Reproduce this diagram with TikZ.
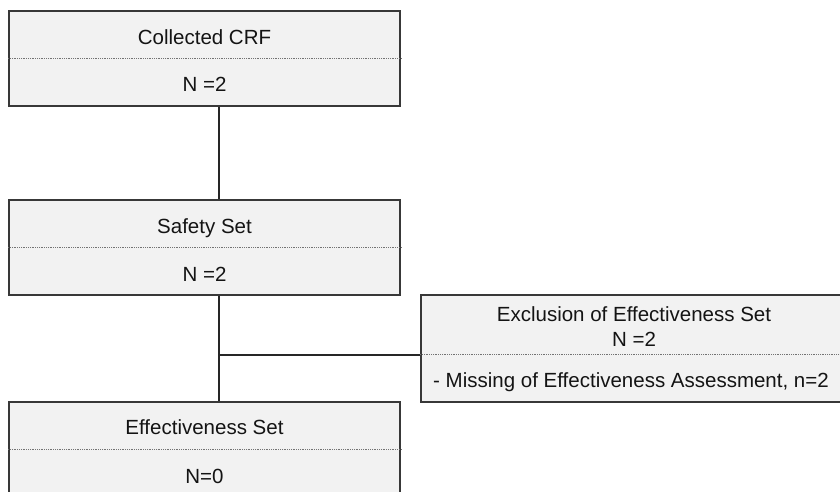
\documentclass[tikz,border=0pt]{standalone}
\usepackage{fontspec}
\setmainfont{Liberation Sans}
\usepackage{tikz}

\begin{document}
\begin{tikzpicture}
            [x=1pt,y=-1pt,
            box/.style={rectangle,draw=black!78,fill=black!5,line width=1.5pt,inner sep=0pt,minimum width=391pt,minimum height=95pt},
            lbl/.style={inner sep=0pt,text height=14.6pt,text depth=0pt,text=black!92,font=\fontsize{20.5}{24}\selectfont},
            sep/.style={draw=black!55,line width=0.9pt,dash pattern=on 0.9pt off 0.9pt},
            link/.style={draw=black!85,line width=1.5pt}]
            \useasboundingbox (0,0) rectangle (840,492);
            \clip (0,0) rectangle (840,492);
            \node[box] (crf) at (204.5,58.5) {};
            \node[box] (safety) at (204.5,247.5) {};
            \node[box] (eff) at (204.5,449.5) {};
            \node[box,minimum width=420pt,minimum height=107pt] (excl) at (631,348.5) {};
            %
            \draw[sep] (crf.west) -- (crf.east);
            \draw[sep] (safety.west) -- (safety.east);
            \draw[sep] (eff.west) -- (eff.east);
            \draw[sep] ([yshift=-5.5pt]excl.west) -- ([yshift=-5.5pt]excl.east);
            %
            \node[lbl] (crftitle) at (204.5,37) {Collected CRF};
            \node[lbl] (crfn) at (204.5,84) {N =2};
            \node[lbl] (safetytitle) at (204.5,226.5) {Safety Set};
            \node[lbl] (safetyn) at (204.5,274) {N =2};
            \node[lbl] (efftitle) at (204.5,427) {Effectiveness Set};
            \node[lbl] (effn) at (204.5,476) {N=0};
            \node[lbl] (excltitle) at (634,314) {Exclusion of Effectiveness Set};
            \node[lbl] (excln) at (634,339) {N =2};
            \node[lbl] (exclreason) at (631,380) {- Missing of Effectiveness Assessment, n=2};
            %
            \coordinate (branch) at (219,355);
            \draw[link] ([xshift=14.5pt]crf.south) -- ([xshift=14.5pt]safety.north);
            \draw[link] ([xshift=14.5pt]safety.south) -- ([xshift=14.5pt]eff.north);
            \draw[link] (branch) -- (branch -| excl.west);
        \end{tikzpicture}
\end{document}
